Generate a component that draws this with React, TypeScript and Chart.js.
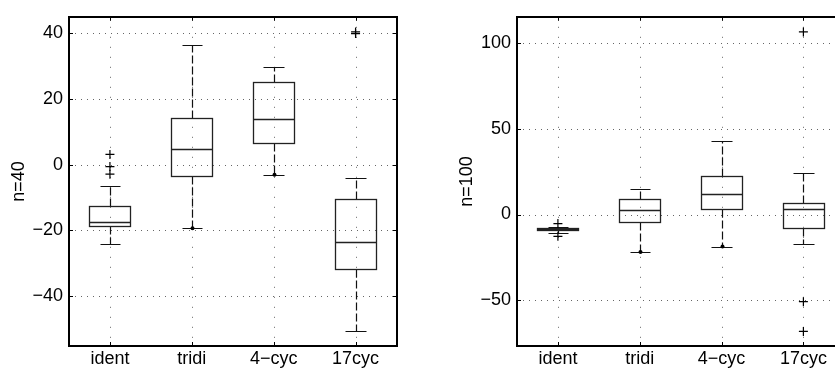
import React, { useEffect, useRef } from 'react';
import { Chart, registerables } from 'chart.js';

Chart.register(...registerables);

// ---------- data ----------
const categories = ['ident', 'tridi', '4−cyc', '17cyc'];

// n = 40
const n40Q1 = [-18.6, -3.5, 6.7, -31.6];
const n40Median = [-17.4, 4.8, 14.0, -23.4];
const n40Q3 = [-12.6, 14.2, 25.1, -10.5];
const n40WhiskerLow = [-24.1, -19.3, -3.1, -50.5];
const n40WhiskerHigh = [-6.6, 36.3, 29.7, -4.1];
const n40Outliers = [[3.1, -0.6, -2.9], [], [], [40.3, 39.8]];
const n40EndDots = [null, -19.3, -3.1, null];
const n40YTicks = [-40, -20, 0, 20, 40];
const n40YRange = [-55.1, 44.9];

// n = 100
const n100Q1 = [-9.3, -4.5, 3.4, -7.9];
const n100Median = [-8.7, 2.6, 11.7, 3.0];
const n100Q3 = [-8.1, 9.2, 22.2, 6.8];
const n100WhiskerLow = [-10.8, -21.9, -18.7, -17.4];
const n100WhiskerHigh = [-7.0, 14.9, 43.0, 24.2];
const n100Outliers = [[-5.3, -12.7], [], [], [106.4, -50.8, -68.1]];
const n100EndDots = [null, -21.9, -18.7, null];
const n100YTicks = [-50, 0, 50, 100];
const n100YRange = [-76.6, 115.2];

// ---------- helpers ----------
const FONT = { family: '"Liberation Sans", Arial, Helvetica, sans-serif', size: 18 };

const fmt = (v: number) => (v < 0 ? '−' + Math.abs(v) : String(v));

interface BoxData {
  q1: number[];
  median: number[];
  q3: number[];
  low: number[];
  high: number[];
  outliers: number[][];
  endDots: (number | null)[];
  yTicks: number[];
}

function makePlugin(d: BoxData) {
  return {
    id: 'matlabBox',
    beforeDatasetsDraw(chart: any) {
      const { ctx, chartArea: a, scales } = chart;
      const x = scales.x;
      const y = scales.y;
      ctx.save();
      // dotted grid
      ctx.strokeStyle = '#666';
      ctx.lineWidth = 1;
      ctx.setLineDash([1, 5]);
      d.yTicks.forEach((t) => {
        const py = Math.round(y.getPixelForValue(t)) + 0.5;
        ctx.beginPath();
        ctx.moveTo(a.left, py);
        ctx.lineTo(a.right, py);
        ctx.stroke();
      });
      ctx.setLineDash([1, 9]);
      categories.forEach((_, i) => {
        const px = Math.round(x.getPixelForValue(i + 1)) + 0.5;
        ctx.beginPath();
        ctx.moveTo(px, a.top);
        ctx.lineTo(px, a.bottom);
        ctx.stroke();
      });

      // boxes
      categories.forEach((_, i) => {
        const c = i + 1;
        const xc = Math.round(x.getPixelForValue(c)) + 0.5;
        const xl = Math.round(x.getPixelForValue(c - 0.25)) + 0.5;
        const xr = Math.round(x.getPixelForValue(c + 0.25)) + 0.5;
        const cl = Math.round(x.getPixelForValue(c - 0.125)) + 0.5;
        const cr = Math.round(x.getPixelForValue(c + 0.125)) + 0.5;
        const yq1 = Math.round(y.getPixelForValue(d.q1[i])) + 0.5;
        const yq3 = Math.round(y.getPixelForValue(d.q3[i])) + 0.5;
        const ym = Math.round(y.getPixelForValue(d.median[i])) + 0.5;
        const ylo = Math.round(y.getPixelForValue(d.low[i])) + 0.5;
        const yhi = Math.round(y.getPixelForValue(d.high[i])) + 0.5;

        // whiskers (dashed)
        ctx.strokeStyle = '#111';
        ctx.lineWidth = 1.2;
        ctx.setLineDash([8, 3]);
        ctx.beginPath();
        ctx.moveTo(xc, yq3);
        ctx.lineTo(xc, yhi);
        ctx.moveTo(xc, yq1);
        ctx.lineTo(xc, ylo);
        ctx.stroke();
        ctx.setLineDash([]);
        // caps
        ctx.beginPath();
        ctx.moveTo(cl, yhi);
        ctx.lineTo(cr, yhi);
        ctx.moveTo(cl, ylo);
        ctx.lineTo(cr, ylo);
        ctx.stroke();
        // box
        ctx.strokeStyle = '#222';
        ctx.lineWidth = 1.3;
        ctx.strokeRect(xl, yq3, xr - xl, yq1 - yq3);
        // median
        ctx.beginPath();
        ctx.moveTo(xl, ym);
        ctx.lineTo(xr, ym);
        ctx.stroke();
        // end dot
        const ed = d.endDots[i];
        if (ed !== null && ed !== undefined) {
          const yd = y.getPixelForValue(ed);
          ctx.fillStyle = '#000';
          ctx.beginPath();
          ctx.arc(xc, yd, 2, 0, Math.PI * 2);
          ctx.fill();
        }
      });
      ctx.restore();
    },
    afterDatasetsDraw(chart: any) {
      const { ctx, chartArea: a, scales } = chart;
      const x = scales.x;
      const y = scales.y;
      ctx.save();
      ctx.strokeStyle = '#000';
      ctx.lineWidth = 1;
      // inward ticks
      ctx.beginPath();
      d.yTicks.forEach((t) => {
        const py = Math.round(y.getPixelForValue(t)) + 0.5;
        ctx.moveTo(a.left, py);
        ctx.lineTo(a.left + 4, py);
        ctx.moveTo(a.right, py);
        ctx.lineTo(a.right - 4, py);
      });
      categories.forEach((_, i) => {
        const px = Math.round(x.getPixelForValue(i + 1)) + 0.5;
        ctx.moveTo(px, a.top);
        ctx.lineTo(px, a.top + 4);
        ctx.moveTo(px, a.bottom);
        ctx.lineTo(px, a.bottom - 4);
      });
      ctx.stroke();
      // frame
      ctx.lineWidth = 2;
      ctx.strokeRect(Math.round(a.left), Math.round(a.top), Math.round(a.right - a.left), Math.round(a.bottom - a.top));
      ctx.restore();
    },
  };
}

function makeConfig(d: BoxData, range: number[], title: string, yWidth: number, padRight: number, titlePad: number) {
  const pts: { x: number; y: number }[] = [];
  d.outliers.forEach((arr, i) => arr.forEach((v) => pts.push({ x: i + 1, y: v })));
  return {
    type: 'scatter' as const,
    data: {
      datasets: [
        {
          data: pts,
          pointStyle: 'cross',
          radius: 4.5,
          borderColor: '#000',
          borderWidth: 1.2,
          backgroundColor: '#000',
        },
      ],
    },
    options: {
      animation: false,
      responsive: false,
      maintainAspectRatio: false,
      events: [],
      layout: { padding: { top: 6, right: padRight, left: 0, bottom: 0 } },
      plugins: { legend: { display: false }, tooltip: { enabled: false } },
      scales: {
        x: {
          type: 'linear',
          min: 0.5,
          max: 4.5,
          grid: { display: false, drawTicks: false },
          border: { display: false },
          afterBuildTicks: (s: any) => {
            s.ticks = categories.map((_, i) => ({ value: i + 1 }));
          },
          afterFit: (s: any) => {
            s.height = 35;
          },
          ticks: {
            callback: (v: any) => categories[Math.round(Number(v)) - 1],
            font: FONT,
            color: '#000',
            padding: 2,
            autoSkip: false,
            maxRotation: 0,
          },
        },
        y: {
          type: 'linear',
          min: range[0],
          max: range[1],
          grid: { display: false, drawTicks: false },
          border: { display: false },
          afterBuildTicks: (s: any) => {
            s.ticks = d.yTicks.map((v) => ({ value: v }));
          },
          afterFit: (s: any) => {
            s.width = yWidth;
          },
          ticks: {
            callback: (v: any) => fmt(Number(v)),
            font: FONT,
            color: '#000',
            padding: 6,
          },
          title: {
            display: true,
            text: title,
            font: FONT,
            color: '#000',
            padding: { top: titlePad, bottom: 0 },
          },
        },
      },
    },
    plugins: [makePlugin(d)],
  };
}

const n40Data: BoxData = {
  q1: n40Q1, median: n40Median, q3: n40Q3, low: n40WhiskerLow, high: n40WhiskerHigh,
  outliers: n40Outliers, endDots: n40EndDots, yTicks: n40YTicks,
};
const n100Data: BoxData = {
  q1: n100Q1, median: n100Median, q3: n100Q3, low: n100WhiskerLow, high: n100WhiskerHigh,
  outliers: n100Outliers, endDots: n100EndDots, yTicks: n100YTicks,
};

export default function App() {
  const leftRef = useRef<HTMLCanvasElement>(null);
  const rightRef = useRef<HTMLCanvasElement>(null);

  useEffect(() => {
    const c1 = new Chart(leftRef.current as HTMLCanvasElement, makeConfig(n40Data, n40YRange, 'n=40', 69, 23.5, 8) as any);
    const c2 = new Chart(rightRef.current as HTMLCanvasElement, makeConfig(n100Data, n100YRange, 'n=100', 97, 5, 36) as any);
    return () => {
      c1.destroy();
      c2.destroy();
    };
  }, []);

  return (
    <div style={{ position: 'fixed', left: 0, top: 0, width: 835, height: 381, overflow: 'hidden', background: '#fff' }}>
      <canvas ref={leftRef} width={420} height={381} style={{ position: 'absolute', left: 0, top: 0, width: 420, height: 381 }} />
      <canvas ref={rightRef} width={430} height={381} style={{ position: 'absolute', left: 420, top: 0, width: 430, height: 381 }} />
    </div>
  );
}
